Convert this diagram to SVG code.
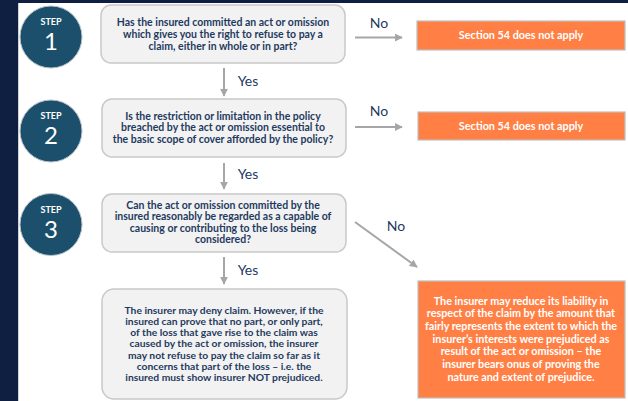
<svg xmlns="http://www.w3.org/2000/svg" width="628" height="401" viewBox="0 0 628 401">
<defs>
<marker id="ah" viewBox="0 0 10 10" refX="9" refY="5" markerWidth="4" markerHeight="4" orient="auto" markerUnits="strokeWidth">
<path d="M0,0 L10,5 L0,10 z" fill="#A6A6A6"/>
</marker>
<style>
.circ{fill:#1B4F6C;stroke:#B8C2CA;stroke-width:1}
.step{font-family:Lato,"Liberation Sans",sans-serif;font-weight:bold;font-size:9px;fill:#fff;text-anchor:middle}
.num{font-family:Lato,"Liberation Sans",sans-serif;font-size:24px;fill:#fff;text-anchor:middle}
.box{fill:#F2F2F2;stroke:#C9C9C9;stroke-width:1.5}
.bt{font-family:Lato,"Liberation Sans",sans-serif;font-weight:bold;font-size:10.5px;fill:#1F3A5F;text-anchor:middle}
.bt4{font-size:10.3px}
.ob{fill:#FF7F45;stroke:#BFBFBF;stroke-width:1.2}
.ot{font-family:Lato,"Liberation Sans",sans-serif;font-weight:bold;font-size:10.8px;fill:#fff;text-anchor:middle}
.lbl{font-family:Lato,"Liberation Sans",sans-serif;font-size:14px;fill:#1F3A5F;text-anchor:middle}
.ar{stroke:#A6A6A6;stroke-width:2;fill:none;marker-end:url(#ah)}
</style>
</defs>
<rect x="0" y="0" width="628" height="401" fill="#0E1F42"/>
<rect x="18" y="3" width="610" height="398" fill="#FFFFFF"/>
<line x1="18.5" y1="3" x2="18.5" y2="401" stroke="#D0D0D0" stroke-width="1"/>

<g id="step1">
<circle class="circ" cx="51" cy="37" r="31"/>
<text class="step" x="51" y="25">STEP</text>
<text class="num" x="51" y="50">1</text>
</g>
<g id="step2">
<circle class="circ" cx="51" cy="131" r="31"/>
<text class="step" x="51" y="119">STEP</text>
<text class="num" x="51" y="144">2</text>
</g>
<g id="step3">
<circle class="circ" cx="51" cy="224.5" r="31"/>
<text class="step" x="51" y="212.5">STEP</text>
<text class="num" x="51" y="237.5">3</text>
</g>

<g id="q1">
<rect class="box" x="101" y="5" width="244" height="58" rx="10"/>
<text class="bt" x="223" y="25.5">Has the insured committed an act or omission</text>
<text class="bt" x="223" y="37.5">which gives you the right to refuse to pay a</text>
<text class="bt" x="223" y="49.5">claim, either in whole or in part?</text>
</g>
<g id="q2">
<rect class="box" x="102" y="99" width="244" height="58" rx="10"/>
<text class="bt" x="223" y="119.5">Is the restriction or limitation in the policy</text>
<text class="bt" x="223" y="131">breached by the act or omission essential to</text>
<text class="bt" x="223" y="142.5">the basic scope of cover afforded by the policy?</text>
</g>
<g id="q3">
<rect class="box" x="102" y="194" width="244" height="58" rx="10"/>
<text class="bt" x="223" y="208.5">Can the act or omission committed by the</text>
<text class="bt" x="223" y="220">insured reasonably be regarded as a capable of</text>
<text class="bt" x="223" y="231.5">causing or contributing to the loss being</text>
<text class="bt" x="223" y="243">considered?</text>
</g>
<g id="deny">
<rect class="box" x="102" y="289" width="245" height="110" rx="12"/>
<text class="bt bt4" x="224" y="313.5">The insurer may deny claim. However, if the</text>
<text class="bt bt4" x="224" y="324.8">insured can prove that no part, or only part,</text>
<text class="bt bt4" x="224" y="336.1">of the loss that gave rise to the claim was</text>
<text class="bt bt4" x="224" y="347.4">caused by the act or omission, the insurer</text>
<text class="bt bt4" x="224" y="358.7">may not refuse to pay the claim so far as it</text>
<text class="bt bt4" x="224" y="370">concerns that part of the loss – i.e. the</text>
<text class="bt bt4" x="224" y="381.3">insured must show insurer NOT prejudiced.</text>
</g>
<g id="na1">
<rect class="ob" x="417" y="21" width="208" height="29"/>
<text class="ot" x="521" y="39">Section 54 does not apply</text>
</g>
<g id="na2">
<rect class="ob" x="418" y="112" width="207" height="28"/>
<text class="ot" x="521" y="130">Section 54 does not apply</text>
</g>
<g id="reduce">
<rect class="ob" x="418" y="281" width="207" height="117"/>
<text class="ot" x="521" y="304.5">The insurer may reduce its liability in</text>
<text class="ot" x="521" y="317.2">respect of the claim by the amount that</text>
<text class="ot" x="521" y="329.9">fairly represents the extent to which the</text>
<text class="ot" x="521" y="342.6">insurer’s interests were prejudiced as</text>
<text class="ot" x="521" y="355.3">result of the act or omission –  the</text>
<text class="ot" x="521" y="368">insurer bears onus of proving the</text>
<text class="ot" x="521" y="380.7">nature and extent of prejudice.</text>
</g>

<g id="connectors">
<line class="ar" x1="355" y1="37.5" x2="402" y2="37.5"/>
<text class="lbl" x="379" y="28">No</text>
<line class="ar" x1="355" y1="127" x2="402" y2="127"/>
<text class="lbl" x="379" y="115.5">No</text>
<line class="ar" x1="355" y1="222" x2="417" y2="267"/>
<text class="lbl" x="396" y="230.5">No</text>
<line class="ar" x1="224" y1="68" x2="224" y2="96"/>
<text class="lbl" x="248" y="86">Yes</text>
<line class="ar" x1="224" y1="163" x2="224" y2="189"/>
<text class="lbl" x="248" y="178.5">Yes</text>
<line class="ar" x1="224" y1="257" x2="224" y2="284"/>
<text class="lbl" x="248" y="274.5">Yes</text>
</g>
</svg>
